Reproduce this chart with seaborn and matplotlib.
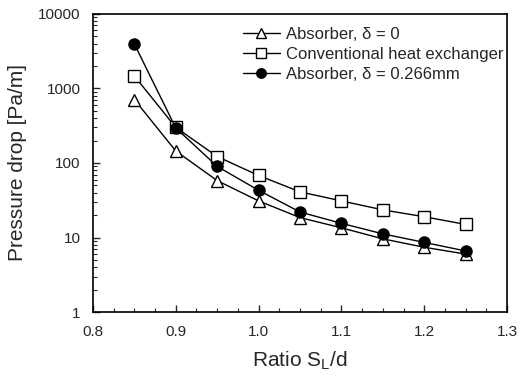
import numpy as np
import pandas as pd
import seaborn as sns
import matplotlib.pyplot as plt
from matplotlib.ticker import FixedLocator, LogLocator, MultipleLocator, NullFormatter

ratio = [0.85, 0.90, 0.95, 1.00, 1.05, 1.10, 1.15, 1.20, 1.25]
absorber_0 = [710, 145, 58, 31, 18.5, 13.5, 9.6, 7.4, 6.0]
conventional = [1470, 300, 122, 68, 41, 31, 23.5, 19, 15]
absorber_266 = [3950, 295, 90, 43, 22, 15.5, 11.2, 8.6, 6.6]

series_names = ["Absorber, δ = 0", "Conventional heat exchanger", "Absorber, δ = 0.266mm"]

df = pd.DataFrame({
    "ratio": ratio * 3,
    "dp": absorber_0 + conventional + absorber_266,
    "series": np.repeat(series_names, len(ratio)),
})

sns.set_style("ticks")
plt.rcParams['font.family'] = ['Liberation Sans', 'DejaVu Sans']

f = plt.figure(figsize=(5.25, 3.76), dpi=100)
ax = f.add_axes([0.177, 0.170, 0.789, 0.793])

markers = {series_names[0]: "^", series_names[1]: "s", series_names[2]: "o"}
faces = {series_names[0]: "white", series_names[1]: "white", series_names[2]: "black"}
for name in series_names:
    sub = df[df["series"] == name]
    sns.lineplot(data=sub, x="ratio", y="dp", ax=ax, color="black", linewidth=1.0,
                 marker=markers[name], markersize=8, markerfacecolor=faces[name],
                 markeredgecolor="black", markeredgewidth=1.0, label=name)

ax.set_yscale("log")
ax.set_ylim(1, 10000)
ax.set_xlim(0.8, 1.3)
ax.yaxis.set_major_locator(FixedLocator([1, 10, 100, 1000, 10000]))
ax.set_yticklabels(["1", "10", "100", "1000", "10000"])
ax.yaxis.set_minor_locator(LogLocator(base=10, subs=np.arange(2, 10)))
ax.yaxis.set_minor_formatter(NullFormatter())
ax.xaxis.set_minor_locator(MultipleLocator(0.025))
ax.set_xticks([0.8, 0.9, 1.0, 1.1, 1.2, 1.3])
ax.set_xticklabels(["0.8", "0.9", "1.0", "1.1", "1.2", "1.3"])
ax.tick_params(which="both", direction="in", labelsize=11)
ax.tick_params(which="major", length=5, width=1)
ax.tick_params(which="minor", length=3, width=0.8)
ax.tick_params(axis="x", which="major", pad=9)
ax.tick_params(axis="y", which="major", pad=9)
for s in ax.spines.values():
    s.set_linewidth(1.2)
    s.set_color("black")

ax.set_xlabel("Ratio S$_\\mathregular{L}$/d", fontsize=15, labelpad=8)
ax.set_ylabel("Pressure drop [Pa/m]", fontsize=15, labelpad=8)

# legend sits close to the right spine, like the original
ax.legend(loc="upper right", bbox_to_anchor=(1.024, 1.0), frameon=False, fontsize=12,
          handlelength=2.2, handletextpad=0.4, labelspacing=0.3, borderaxespad=0.4,
          markerscale=0.85)

f.savefig("out.png", dpi=100)
